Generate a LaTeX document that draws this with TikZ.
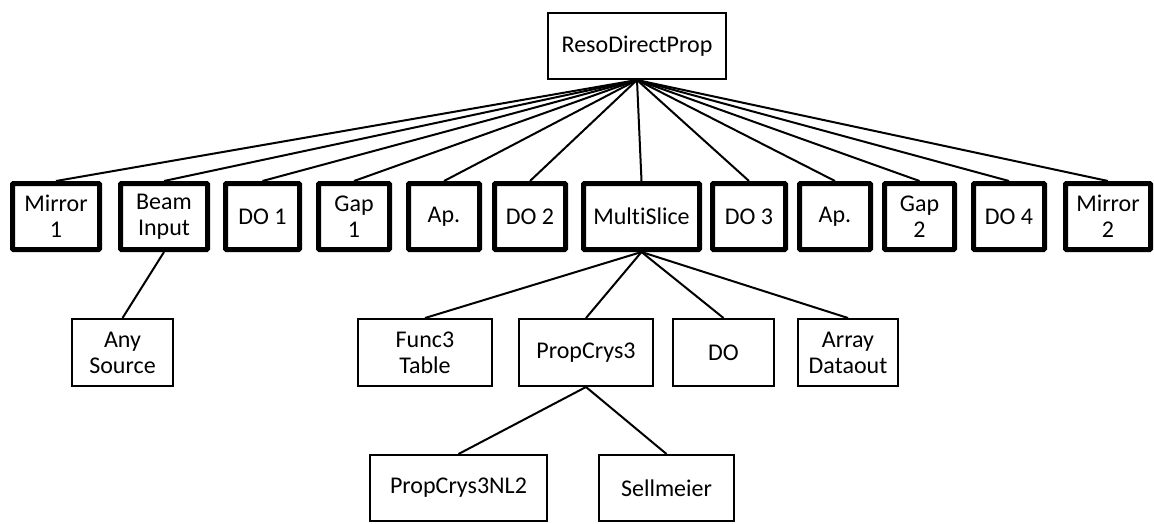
\documentclass[tikz,border=0pt]{standalone}
\usepackage{fontspec}
\setmainfont{Carlito}[Ligatures=NoCommon]
\begin{document}
\begin{tikzpicture}[x=1pt,y=-1pt,
  every node/.style={font=\fontsize{24}{26}\selectfont, align=center, inner sep=0pt},
  thin box/.style={draw=black, line width=2pt, fill=white},
  thick box/.style={draw=black, line width=5pt, fill=white, rounded corners=1pt, minimum height=66pt},
  link/.style={line width=2pt}]
\useasboundingbox (0,0) rectangle (1154,523);
% top
\node[thin box, minimum width=178pt, minimum height=66pt] (top) at (637,46) {ResoDirectProp};
% middle row
\node[thick box, minimum width=87pt] (m1) at (56,216.5) {Mirror\\1};
\node[thick box, minimum width=87pt] (bi) at (164,216.5) {Beam\\Input};
\node[thick box, minimum width=74pt] (do1) at (262.5,216.5) {DO 1};
\node[thick box, minimum width=71pt] (g1) at (354,216.5) {Gap\\1};
\node[thick box, minimum width=71pt] (ap1) at (444,216.5) {Ap.};
\node[thick box, minimum width=71pt] (do2) at (530,216.5) {DO 2};
\node[thick box, minimum width=116pt] (ms) at (641.5,216.5) {MultiSlice};
\node[thick box, minimum width=73pt] (do3) at (749,216.5) {DO 3};
\node[thick box, minimum width=71pt] (ap2) at (835,216.5) {Ap.};
\node[thick box, minimum width=70pt] (g2) at (919.5,216.5) {Gap\\2};
\node[thick box, minimum width=71pt] (do4) at (1009,216.5) {DO 4};
\node[thick box, minimum width=85pt] (m2) at (1108,216.5) {Mirror\\2};
% bottom row
\node[thin box, minimum width=101pt, minimum height=67pt] (as) at (122.5,352.5) {Any\\Source};
\node[thin box, minimum width=134pt, minimum height=67pt] (ft) at (425,352.5) {Func3\\Table};
\node[thin box, minimum width=134pt, minimum height=67pt] (pc) at (586,352.5) {PropCrys3};
\node[thin box, minimum width=101pt, minimum height=67pt] (do) at (723.5,352.5) {DO};
\node[thin box, minimum width=100pt, minimum height=67pt] (ad) at (848,352.5) {Array\\Dataout};
% lowest row
\node[thin box, minimum width=177pt, minimum height=66pt] (nl) at (458.5,488) {PropCrys3NL2};
\node[thin box, minimum width=135pt, minimum height=66pt] (sm) at (666.5,488) {Sellmeier};
% connectors
\foreach \n in {m1,bi,do1,g1,ap1,do2,ms,do3,ap2,g2,do4,m2}
  \draw[link] (top.south) -- (\n.north);
\draw[link] (bi.south) -- (as.north);
\foreach \n in {ft,pc,do,ad}
  \draw[link] (ms.south) -- (\n.north);
\draw[link] (pc.south) -- (nl.north);
\draw[link] (pc.south) -- (sm.north);
\end{tikzpicture}
\end{document}
